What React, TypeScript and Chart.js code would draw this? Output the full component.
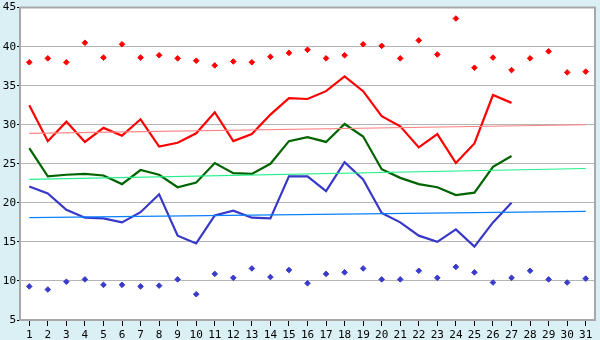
import React, { useEffect, useRef } from "react";
import { Chart, registerables } from "chart.js";

Chart.register(...registerables);

const days = Array.from({ length: 31 }, (_, i) => String(i + 1));

const maxPoints = [38.0, 38.5, 38.0, 40.5, 38.6, 40.3, 38.6, 38.9, 38.5, 38.2, 37.6, 38.1, 38.0, 38.7, 39.2, 39.6, 38.5, 38.9, 40.3, 40.1, 38.5, 40.8, 39.0, 43.6, 37.3, 38.6, 37.0, 38.5, 39.4, 36.7, 36.8];
const minPoints = [9.3, 8.9, 9.9, 10.2, 9.5, 9.5, 9.3, 9.4, 10.2, 8.3, 10.9, 10.4, 11.6, 10.5, 11.4, 9.7, 10.9, 11.1, 11.6, 10.2, 10.2, 11.3, 10.4, 11.8, 11.1, 9.8, 10.4, 11.3, 10.2, 9.8, 10.3];
const highLine = [32.5, 27.9, 30.4, 27.8, 29.6, 28.6, 30.7, 27.2, 27.7, 28.9, 31.6, 27.9, 28.8, 31.3, 33.4, 33.3, 34.3, 36.2, 34.3, 31.1, 29.8, 27.1, 28.8, 25.1, 27.6, 33.8, 32.8];
const meanLine = [27.0, 23.4, 23.6, 23.7, 23.5, 22.4, 24.2, 23.6, 22.0, 22.6, 25.1, 23.8, 23.7, 25.0, 27.9, 28.4, 27.8, 30.1, 28.5, 24.3, 23.2, 22.4, 22.0, 21.0, 21.3, 24.6, 26.0];
const lowLine = [22.1, 21.2, 19.1, 18.1, 18.0, 17.5, 18.8, 21.1, 15.8, 14.8, 18.4, 19.0, 18.1, 18.0, 23.4, 23.4, 21.5, 25.2, 23.0, 18.7, 17.5, 15.8, 15.0, 16.6, 14.4, 17.5, 20.0];
const highTrend = [28.9, 30.0];
const meanTrend = [23.0, 24.4];
const lowTrend = [18.1, 18.9];
const yTicks = [5, 10, 15, 20, 25, 30, 35, 40, 45];

const trend = (vals: number[]) => [
  { x: days[0], y: vals[0] },
  { x: days[days.length - 1], y: vals[1] },
];

const frame = {
  id: "frame",
  beforeDraw(chart: any) {
    const { ctx, chartArea: a } = chart;
    ctx.save();
    ctx.fillStyle = "#daf0f5";
    ctx.fillRect(0, 0, chart.width, chart.height);
    ctx.fillStyle = "#ffffff";
    ctx.fillRect(a.left, a.top, a.right - a.left, a.bottom - a.top);
    ctx.restore();
  },
  afterDatasetsDraw(chart: any) {
    const { ctx, chartArea: a } = chart;
    ctx.save();
    ctx.strokeStyle = "#a8a8a8";
    ctx.lineWidth = 2;
    ctx.beginPath();
    ctx.moveTo(a.left, a.top);
    ctx.lineTo(a.right, a.top);
    ctx.lineTo(a.right, a.bottom);
    ctx.stroke();
    ctx.restore();
  },
};

export default function App() {
  const ref = useRef<HTMLCanvasElement>(null);
  useEffect(() => {
    document.body.style.margin = "0";
    const line = (data: any, color: string, width: number) => ({
      type: "line" as const,
      data,
      borderColor: color,
      backgroundColor: color,
      borderWidth: width,
      pointRadius: 0,
      tension: 0,
      fill: false,
    });
    const dots = (data: number[], color: string) => ({
      type: "line" as const,
      data,
      borderColor: color,
      backgroundColor: color,
      showLine: false,
      pointStyle: "rectRot",
      pointRadius: 2.8,
      borderWidth: 1,
    });
    const chart = new Chart(ref.current!, {
      type: "line",
      data: {
        labels: days,
        datasets: [
          line(trend(lowTrend), "#0a80ff", 1.2),
          line(trend(meanTrend), "#22f08a", 1.2),
          line(trend(highTrend), "#ff8585", 1.2),
          line(lowLine, "#3737c8", 2.2),
          line(meanLine, "#006400", 2.2),
          line(highLine, "#ff0000", 2.2),
          dots(maxPoints, "#ff0000"),
          dots(minPoints, "#3a3acc"),
        ] as any,
      },
      plugins: [frame],
      options: {
        animation: false,
        responsive: false,
        devicePixelRatio: 1,
        layout: { padding: { top: 5, right: 5, left: 0, bottom: 0 } },
        plugins: { legend: { display: false }, tooltip: { enabled: false } },
        scales: {
          x: {
            type: "category",
            offset: true,
            grid: { drawOnChartArea: false, tickColor: "#000", tickLength: 6, color: "#a8a8a8" },
            border: { color: "#a8a8a8", width: 2 },
            ticks: { color: "#000", font: { family: "DejaVu Sans Mono", size: 11 }, padding: 3, maxRotation: 0, autoSkip: false },
            afterFit: (s: any) => { s.height = 20; },
          },
          y: {
            min: 5,
            max: 45,
            afterBuildTicks: (s: any) => { s.ticks = yTicks.map((v) => ({ value: v })); },
            grid: { color: "#b4b4b4", tickColor: "#000", tickLength: 3, lineWidth: 1 },
            border: { color: "#a8a8a8", width: 2 },
            ticks: { color: "#000", font: { family: "DejaVu Sans Mono", size: 11 }, padding: 1 },
            afterFit: (s: any) => { s.width = 20; },
          },
        },
      },
    });
    return () => chart.destroy();
  }, []);
  return <canvas ref={ref} width={600} height={340} style={{ display: "block" }} />;
}
